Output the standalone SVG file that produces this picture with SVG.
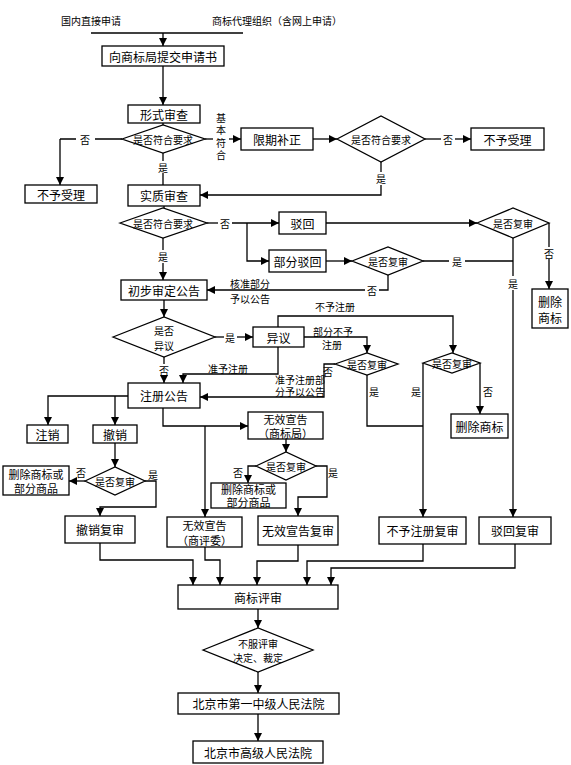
<svg xmlns="http://www.w3.org/2000/svg" width="571" height="765" viewBox="0 0 571 765">
<style>
.b{fill:#fff;stroke:#000;stroke-width:1.3}
.t{font-family:"Noto Sans CJK SC","Noto Sans",sans-serif;font-size:12px;text-anchor:middle;dominant-baseline:central;fill:#000}
.s{font-size:10px}
.m{font-size:11px}
.v{writing-mode:vertical-rl;letter-spacing:2.3px}
.c{fill:none;stroke:#000;stroke-width:1.3}
.a{marker-end:url(#ar)}
</style>
<defs>
<marker id="ar" markerUnits="userSpaceOnUse" markerWidth="8" markerHeight="8" refX="8" refY="4" orient="auto">
<path d="M0,0 L8,4 L0,8 z" fill="#000"/>
</marker>
</defs>
<rect width="571" height="765" fill="#fff"/>

<g id="connectors">
<path class="c" d="M91,33 H243"/>
<path class="c a" d="M163,33 V46"/>
<path class="c a" d="M163,66 V105"/>
<path class="c" d="M163,123 V125"/>
<path class="c" d="M122,139 H95 M76,139 H60"/>
<path class="c a" d="M60,139 V185"/>
<path class="c" d="M205,139 H213"/>
<path class="c a" d="M229,139 H241"/>
<path class="c a" d="M313,139 H337"/>
<path class="c" d="M425,139 H441"/>
<path class="c a" d="M455,139 H471"/>
<path class="c" d="M381,162 V172"/>
<path class="c a" d="M381,185 V195 H200"/>
<path class="c" d="M163,153 V161 M163,173 V185"/>
<path class="c" d="M164,206 V208"/>
<path class="c" d="M207,223 H218"/>
<path class="c a" d="M232,223 H279"/>
<path class="c a" d="M247,223 V261 H269"/>
<path class="c a" d="M326,223 H477"/>
<path class="c" d="M549,223 V247"/>
<path class="c a" d="M549,259 V289"/>
<path class="c" d="M513,238 V276"/>
<path class="c a" d="M513,290 V517"/>
<path class="c a" d="M326,261 H352"/>
<path class="c" d="M423,261 H449 M465,261 H513"/>
<path class="c" d="M388,275 V290 H379"/>
<path class="c a" d="M365,290 H207"/>
<path class="c" d="M163,238 V250"/>
<path class="c a" d="M163,263 V280"/>
<path class="c a" d="M164,300 V317"/>
<path class="c" d="M215,337 H224"/>
<path class="c a" d="M237,337 H253"/>
<path class="c" d="M164,357 V364"/>
<path class="c a" d="M164,376 V383"/>
<path class="c a" d="M278,347 V374 H183 V383"/>
<path class="c a" d="M278,327 V316 H453 V353"/>
<path class="c a" d="M304,337 H367 V353"/>
<path class="c a" d="M335,364 H324 V397 H200"/>
<path class="c" d="M367,375 V426 H423"/>
<path class="c a" d="M423,363 V517"/>
<path class="c a" d="M480,363 V414"/>
<path class="c a" d="M128,396 H48 V425"/>
<path class="c a" d="M115,396 V425"/>
<path class="c a" d="M115,443 V467"/>
<path class="c a" d="M85,481 H69"/>
<path class="c a" d="M145,481 H156 V507 H100 V516"/>
<path class="c a" d="M163,408 V426 H248"/>
<path class="c a" d="M205,426 V517"/>
<path class="c a" d="M286,439 V452"/>
<path class="c a" d="M256,466 H248 V483"/>
<path class="c a" d="M316,466 H327 V497 H298 V516"/>
<path class="c a" d="M100,543 V560 H193 V585"/>
<path class="c a" d="M205,547 V560 H220 V585"/>
<path class="c a" d="M298,545 V561 H257 V585"/>
<path class="c a" d="M423,544 V561 H307 V585"/>
<path class="c a" d="M515,544 V568 H331 V585"/>
<path class="c a" d="M258,609 V628"/>
<path class="c a" d="M258,672 V693"/>
<path class="c a" d="M258,714 V741"/>
</g>

<g id="labels">
<text class="t s" x="91" y="20">国内直接申请</text>
<text class="t s" x="277" y="20">商标代理组织（含网上申请）</text>
<text class="t s" x="85" y="139">否</text>
<text class="t s v" x="221" y="138">基本符合</text>
<text class="t s" x="448" y="139">否</text>
<text class="t s" x="381" y="178">是</text>
<text class="t s" x="163" y="167">是</text>
<text class="t s" x="225" y="223">否</text>
<text class="t s" x="549" y="253">否</text>
<text class="t s" x="513" y="283">是</text>
<text class="t s" x="457" y="261">是</text>
<text class="t s" x="372" y="290">否</text>
<text class="t s"><tspan x="250" y="282.5">核准部分</tspan><tspan x="250" y="297.5">予以公告</tspan></text>
<text class="t s" x="163" y="256">是</text>
<text class="t s" x="230" y="337">是</text>
<text class="t s" x="164" y="370">否</text>
<text class="t s" x="228" y="368">准予注册</text>
<text class="t s" x="335" y="306">不予注册</text>
<text class="t s"><tspan x="333" y="330.5">部分不予</tspan><tspan x="332" y="344">注册</tspan></text>
<text class="t s" x="328" y="371">否</text>
<text class="t s"><tspan x="300" y="378.5">准予注册部</tspan><tspan x="300" y="390.5">分予以公告</tspan></text>
<text class="t s" x="374" y="391">是</text>
<text class="t s" x="416" y="391">是</text>
<text class="t s" x="488" y="391">否</text>
<text class="t s" x="81" y="472">否</text>
<text class="t s" x="153" y="474">是</text>
<text class="t s" x="238" y="472">否</text>
<text class="t s" x="333" y="472">是</text>
</g>

<g id="n1"><rect class="b" x="102" y="46" width="122" height="20"/><text class="t" x="163" y="56">向商标局提交申请书</text></g>
<g id="n2"><rect class="b" x="128" y="105" width="72" height="18"/><text class="t" x="164" y="114">形式审查</text></g>
<g id="d1"><polygon class="b" points="122,139 163,125 205,139 163,153"/><text class="t s" x="163" y="139">是否符合要求</text></g>
<g id="n3"><rect class="b" x="25" y="185" width="72" height="18"/><text class="t" x="61" y="194">不予受理</text></g>
<g id="n4"><rect class="b" x="241" y="128" width="72" height="22"/><text class="t" x="277" y="139">限期补正</text></g>
<g id="d2"><polygon class="b" points="337,139 381,116 425,139 381,162"/><text class="t s" x="381" y="139">是否符合要求</text></g>
<g id="n5"><rect class="b" x="471" y="128" width="73" height="22"/><text class="t" x="507.5" y="139">不予受理</text></g>
<g id="n6"><rect class="b" x="128" y="185" width="72" height="21"/><text class="t" x="164" y="195.5">实质审查</text></g>
<g id="d3"><polygon class="b" points="120,223 163,208 207,223 163,238"/><text class="t s" x="163" y="223">是否符合要求</text></g>
<g id="n7"><rect class="b" x="279" y="212" width="47" height="22"/><text class="t" x="302.5" y="223">驳回</text></g>
<g id="n8"><rect class="b" x="269" y="250" width="57" height="22"/><text class="t" x="297.5" y="261">部分驳回</text></g>
<g id="d4"><polygon class="b" points="477,223 513,208 549,223 513,238"/><text class="t s" x="513" y="223">是否复审</text></g>
<g id="n9"><rect class="b" x="532" y="289" width="36" height="39"/><text class="t"><tspan x="550" y="300.5">删除</tspan><tspan x="550" y="316.5">商标</tspan></text></g>
<g id="d5"><polygon class="b" points="352,261 388,247 423,261 388,275"/><text class="t s" x="388" y="261">是否复审</text></g>
<g id="n10"><rect class="b" x="121" y="280" width="86" height="20"/><text class="t" x="164" y="290">初步审定公告</text></g>
<g id="d6"><polygon class="b" points="113,337 164,317 215,337 164,357"/><text class="t s"><tspan x="164" y="329.5">是否</tspan><tspan x="164" y="345">异议</tspan></text></g>
<g id="n11"><rect class="b" x="253" y="327" width="51" height="20"/><text class="t" x="278.5" y="337">异议</text></g>
<g id="d7"><polygon class="b" points="335,364 367,353 398,364 367,375"/><text class="t s" x="367" y="364">是否复审</text></g>
<g id="d8"><polygon class="b" points="423,363 452,353 480,363 452,373"/><text class="t s" x="452" y="363">是否复审</text></g>
<g id="n12"><rect class="b" x="451" y="414" width="57" height="24"/><text class="t" x="479.5" y="426">删除商标</text></g>
<g id="n13"><rect class="b" x="128" y="383" width="72" height="25"/><text class="t" x="164" y="395.5">注册公告</text></g>
<g id="n14"><rect class="b" x="27" y="425" width="41" height="18"/><text class="t" x="47.5" y="434">注销</text></g>
<g id="n15"><rect class="b" x="93" y="425" width="44" height="18"/><text class="t" x="115" y="434">撤销</text></g>
<g id="d9"><polygon class="b" points="85,481 115,467 145,481 115,495"/><text class="t s" x="115" y="481">是否复审</text></g>
<g id="n16"><rect class="b" x="3" y="466" width="66" height="29"/><text class="t m"><tspan x="36" y="473.5">删除商标或</tspan><tspan x="36" y="487.5">部分商品</tspan></text></g>
<g id="n17"><rect class="b" x="65" y="516" width="70" height="27"/><text class="t" x="100" y="529.5">撤销复审</text></g>
<g id="n18"><rect class="b" x="248" y="412" width="75" height="27"/><text class="t m"><tspan x="285.5" y="418.5">无效宣告</tspan><tspan x="285.5" y="432.5">（商标局）</tspan></text></g>
<g id="d10"><polygon class="b" points="256,466 286,452 316,466 286,480"/><text class="t s" x="286" y="466">是否复审</text></g>
<g id="n19"><rect class="b" x="211" y="483" width="75" height="25"/><text class="t m"><tspan x="248.5" y="489">删除商标或</tspan><tspan x="248.5" y="502">部分商品</tspan></text></g>
<g id="n20"><rect class="b" x="258" y="516" width="80" height="29"/><text class="t" x="298" y="530.5">无效宣告复审</text></g>
<g id="n21"><rect class="b" x="167" y="517" width="75" height="30"/><text class="t m"><tspan x="204.5" y="524.5">无效宣告</tspan><tspan x="204.5" y="539.5">（商评委）</tspan></text></g>
<g id="n22"><rect class="b" x="379" y="517" width="87" height="27"/><text class="t" x="422.5" y="530.5">不予注册复审</text></g>
<g id="n23"><rect class="b" x="479" y="517" width="72" height="27"/><text class="t" x="515" y="530.5">驳回复审</text></g>
<g id="n24"><rect class="b" x="178" y="585" width="160" height="24"/><text class="t" x="258" y="597">商标评审</text></g>
<g id="d11"><polygon class="b" points="203,650 258,628 313,650 258,672"/><text class="t s"><tspan x="258" y="643">不服评审</tspan><tspan x="258" y="657">决定、裁定</tspan></text></g>
<g id="n25"><rect class="b" x="178" y="693" width="161" height="21"/><text class="t" x="258.5" y="703.5">北京市第一中级人民法院</text></g>
<g id="n26"><rect class="b" x="193" y="741" width="130" height="22"/><text class="t" x="258" y="752">北京市高级人民法院</text></g>
</svg>
